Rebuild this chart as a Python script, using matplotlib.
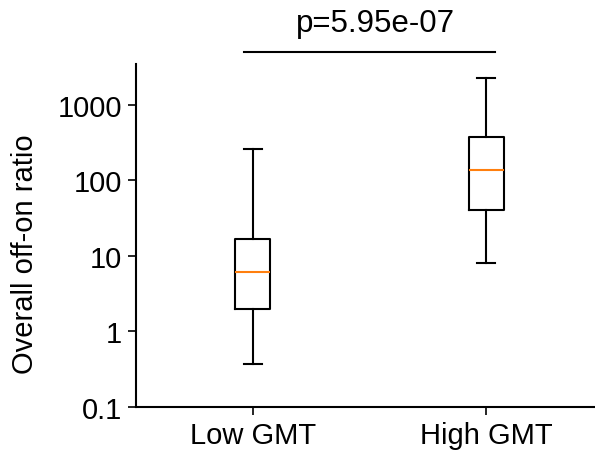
import matplotlib
matplotlib.use("Agg")
from matplotlib import pyplot as plt
import matplotlib.transforms as mtransforms

plt.rcParams['font.family'] = ['Liberation Sans', 'DejaVu Sans']

# box statistics
groups = ["Low GMT", "High GMT"]
whislo = [0.37, 8.1]
q1 = [2.0, 40.5]
med = [6.1, 138]
q3 = [16.8, 375]
whishi = [260, 2280]
p_text = "p=5.95e-07"

yticks = [0.1, 1, 10, 100, 1000]
yticklabels = ["0.1", "1", "10", "100", "1000"]

stats = []
for i in range(len(groups)):
    stats.append({"label": groups[i], "whislo": whislo[i], "q1": q1[i],
                  "med": med[i], "q3": q3[i], "whishi": whishi[i], "fliers": []})

fig = plt.figure(figsize=(5.95, 4.56), dpi=100)
ax = fig.add_axes([136 / 595, 48 / 456, 467 / 595, 343 / 456])

lw = 1.5
ax.bxp(stats, positions=[1, 2], widths=0.15, showfliers=False,
       boxprops=dict(color='black', linewidth=lw),
       whiskerprops=dict(color='black', linewidth=lw),
       capprops=dict(color='black', linewidth=lw),
       medianprops=dict(color='#ff7f0e', linewidth=lw))

ax.set_yscale('log')
ax.set_ylim(0.1, 10 ** 3.54)
ax.set_xlim(0.5, 2.5)
ax.set_yticks(yticks)
ax.set_yticklabels(yticklabels)
ax.yaxis.set_minor_locator(matplotlib.ticker.NullLocator())
ax.set_xticks([1, 2])
ax.set_xticklabels(groups)

ax.tick_params(axis='both', labelsize=21, length=6, width=1.2, pad=4)
for s in ['top', 'right']:
    ax.spines[s].set_visible(False)
for s in ['left', 'bottom']:
    ax.spines[s].set_linewidth(1.5)

ax.set_ylabel("Overall off-on ratio", fontsize=21)
ax.yaxis.set_label_coords(-0.208, 0.449)

# significance bar above the axes
trans = mtransforms.blended_transform_factory(ax.transData, ax.transAxes)
ax.plot([0.963, 2.036], [1.035, 1.035], color='black', linewidth=1.5,
        transform=trans, clip_on=False)
ax.text(1.526, 1.096, p_text, ha='center', va='baseline', fontsize=22.5,
        transform=trans)

plt.savefig('out.png', dpi=100)
